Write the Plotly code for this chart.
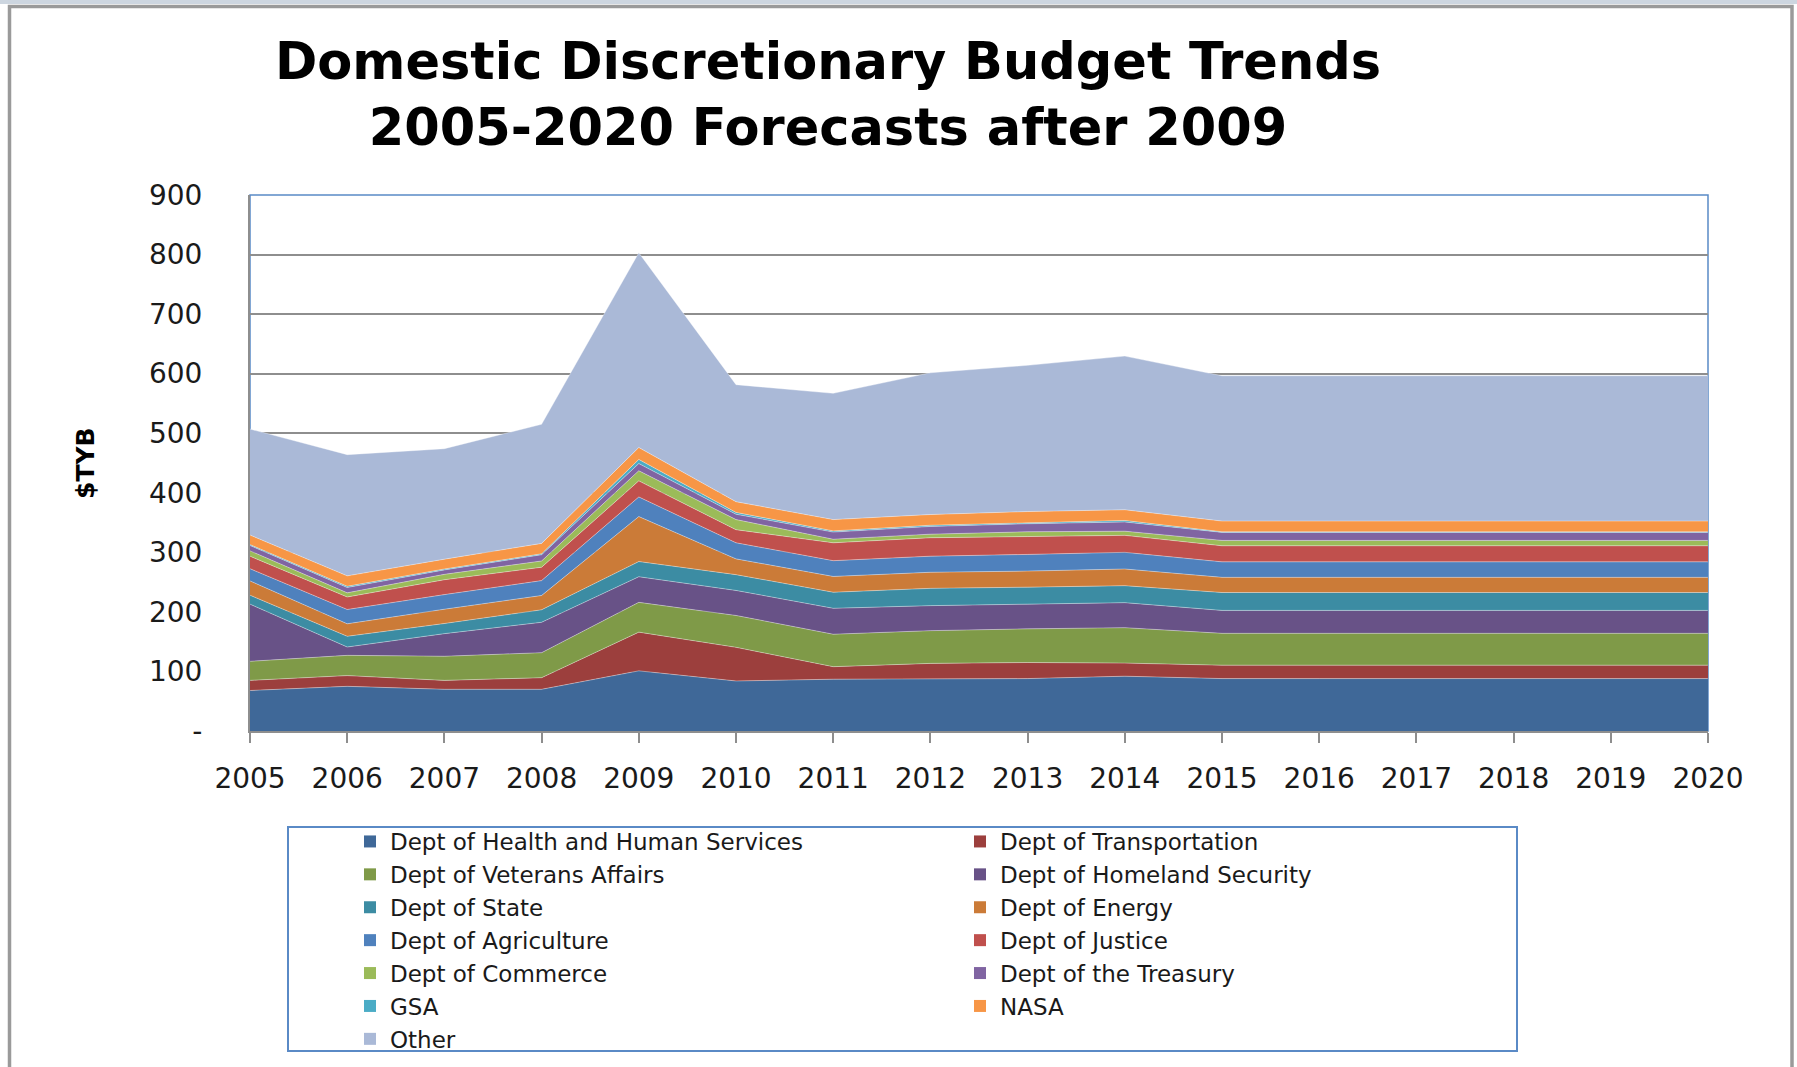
import plotly.graph_objects as go

years = list(range(2005, 2021))

series_names = [
    "Dept of Health and Human Services", "Dept of Transportation",
    "Dept of Veterans Affairs", "Dept of Homeland Security",
    "Dept of State", "Dept of Energy",
    "Dept of Agriculture", "Dept of Justice",
    "Dept of Commerce", "Dept of the Treasury",
    "GSA", "NASA", "Other",
]

hhs = [68, 75, 70, 70, 101, 84, 87, 88, 88, 92, 88, 88, 88, 88, 88, 88]
dot = [17, 18, 15, 19.5, 65, 56.5, 21, 25.5, 27, 22, 22.5, 22.5, 22.5, 22.5, 22.5, 22.5]
va = [32, 34, 40.5, 42, 50, 53.5, 54.5, 55, 56.5, 59.5, 53.5, 53.5, 53.5, 53.5, 53.5, 53.5]
dhs = [96, 14, 38, 51, 43, 42, 43.5, 42, 41.5, 42, 38.5, 38.5, 38.5, 38.5, 38.5, 38.5]
state = [15, 18, 17, 21, 25.5, 26.5, 27, 29, 28.5, 28.5, 30, 30, 30, 30, 30, 30]
energy = [24, 21, 24, 24, 75.5, 26.5, 26.5, 27, 27, 28, 25.5, 25.5, 25.5, 25.5, 25.5, 25.5]
agric = [20.5, 24, 24.5, 25, 33, 27, 26.5, 27, 28, 28, 26, 26, 26, 26, 26, 26]
justice = [21, 21, 25, 22.5, 27, 22, 30, 31, 30, 28.5, 27, 27, 27, 27, 27, 27]
commerce = [9, 7, 9, 10.5, 17, 17, 6, 6, 8, 7, 9, 9, 9, 9, 9, 9]
treasury = [9, 9, 7.5, 10.5, 12, 9, 12, 13, 13.5, 15.5, 13.5, 13.5, 13.5, 13.5, 13.5, 13.5]
gsa = [1.5, 2, 1.5, 1.5, 7, 3, 2, 2, 1.5, 2.5, 1, 1, 1, 1, 1, 1]
nasa = [16, 17.5, 16.5, 17.5, 20, 18, 19, 18, 19, 18, 18, 18, 18, 18, 18, 18]
other = [178, 203.5, 185.5, 200, 327, 196.5, 212, 238, 245.5, 258, 244, 244, 244, 244, 244, 244]

series_values = [hhs, dot, va, dhs, state, energy, agric, justice,
                 commerce, treasury, gsa, nasa, other]

colors = ["#3F6898", "#9C3F3D", "#7F9A48", "#685287", "#3C8CA3", "#CB7B38",
          "#4F81BD", "#C0504D", "#9BBB59", "#8064A2", "#4BACC6", "#F79646",
          "#AAB9D7"]

y_tickvals = [0, 100, 200, 300, 400, 500, 600, 700, 800, 900]
y_ticktext = ["-", "100", "200", "300", "400", "500", "600", "700", "800", "900"]

W, H = 1797, 1067
L, R, T, B = 250, 1708, 195, 731


def px_x(p):
    return (p - L) / (R - L)


def px_y(p):
    return (B - p) / (B - T)


fig = go.Figure()

for name, vals, col in zip(series_names, series_values, colors):
    fig.add_trace(go.Scatter(
        x=years, y=vals, name=name, stackgroup="one", mode="lines",
        line=dict(width=0.8, color="rgba(255,255,255,0.45)"),
        fillcolor=col, showlegend=False, hoverinfo="x+y+name",
    ))

for name, col in zip(series_names, colors):
    fig.add_trace(go.Scatter(
        x=[None], y=[None], name=name, mode="markers",
        marker=dict(symbol="square", size=13, color=col), showlegend=True,
    ))

font_main = "DejaVu Sans"

shapes = [
    # plot area border (blue)
    dict(type="rect", xref="paper", yref="paper", x0=0, x1=1, y0=0, y1=1,
         line=dict(color="#5A8AC6", width=1.5), layer="below"),
    # top band
    dict(type="rect", xref="paper", yref="paper", x0=px_x(0), x1=px_x(W),
         y0=px_y(0), y1=px_y(4), fillcolor="#CDD6E0", line=dict(width=0), layer="above"),
    # outer chart frame
    dict(type="rect", xref="paper", yref="paper", x0=px_x(9.5), x1=px_x(1792),
         y0=px_y(6.5), y1=px_y(1075), line=dict(color="#9A9A9A", width=3.5), layer="above"),
    # legend box
    dict(type="rect", xref="paper", yref="paper", x0=px_x(288), x1=px_x(1517),
         y0=px_y(827), y1=px_y(1051), line=dict(color="#5A8AC6", width=2), layer="above"),
]

fig.update_layout(
    width=W, height=H,
    margin=dict(l=L, r=W - R, t=T, b=H - B, autoexpand=False),
    paper_bgcolor="white", plot_bgcolor="white",
    font=dict(family=font_main, color="#1a1a1a"),
    title=dict(
        text="<b>Domestic Discretionary Budget Trends<br>2005-2020 Forecasts after 2009</b>",
        font=dict(family=font_main, size=51, color="black"),
        x=828 / W, xanchor="center", xref="container",
        y=1 - 79 / H, yanchor="top", yref="container",
    ),
    xaxis=dict(
        range=[2005, 2020], tickmode="array", tickvals=years,
        ticktext=[str(y) for y in years],
        showgrid=False, zeroline=False,
        showline=True, linecolor="#8E8E8E", linewidth=2,
        ticks="outside", ticklen=10, tickwidth=2, tickcolor="#8E8E8E",
        tickfont=dict(family=font_main, size=28, color="#1a1a1a"),
        ticklabelstandoff=11,
    ),
    yaxis=dict(
        range=[0, 900], tickmode="array", tickvals=y_tickvals, ticktext=y_ticktext,
        showgrid=True, gridcolor="#8E8E8E", gridwidth=2,
        zeroline=False, showline=True, linecolor="#8E8E8E", linewidth=2,
        ticks="", tickfont=dict(family=font_main, size=28, color="#1a1a1a"),
        ticklabelstandoff=40,
    ),
    legend=dict(
        orientation="h", traceorder="normal",
        xref="container", yref="container",
        x=350 / W, xanchor="left", y=1 - 820 / H, yanchor="top",
        entrywidth=565, entrywidthmode="pixels",
        font=dict(family=font_main, size=23, color="#1a1a1a"),
        bgcolor="rgba(0,0,0,0)", borderwidth=0,
        itemsizing="constant",
    ),
    shapes=shapes,
    annotations=[
        dict(text="<b>$TYB</b>", textangle=-90, xref="paper", yref="paper",
             x=px_x(85), y=px_y(463), xanchor="center", yanchor="middle",
             showarrow=False, font=dict(family=font_main, size=25, color="black")),
    ],
)

fig.write_html("out.html", config={"displayModeBar": False},
               post_script="document.body.style.margin='0';")
